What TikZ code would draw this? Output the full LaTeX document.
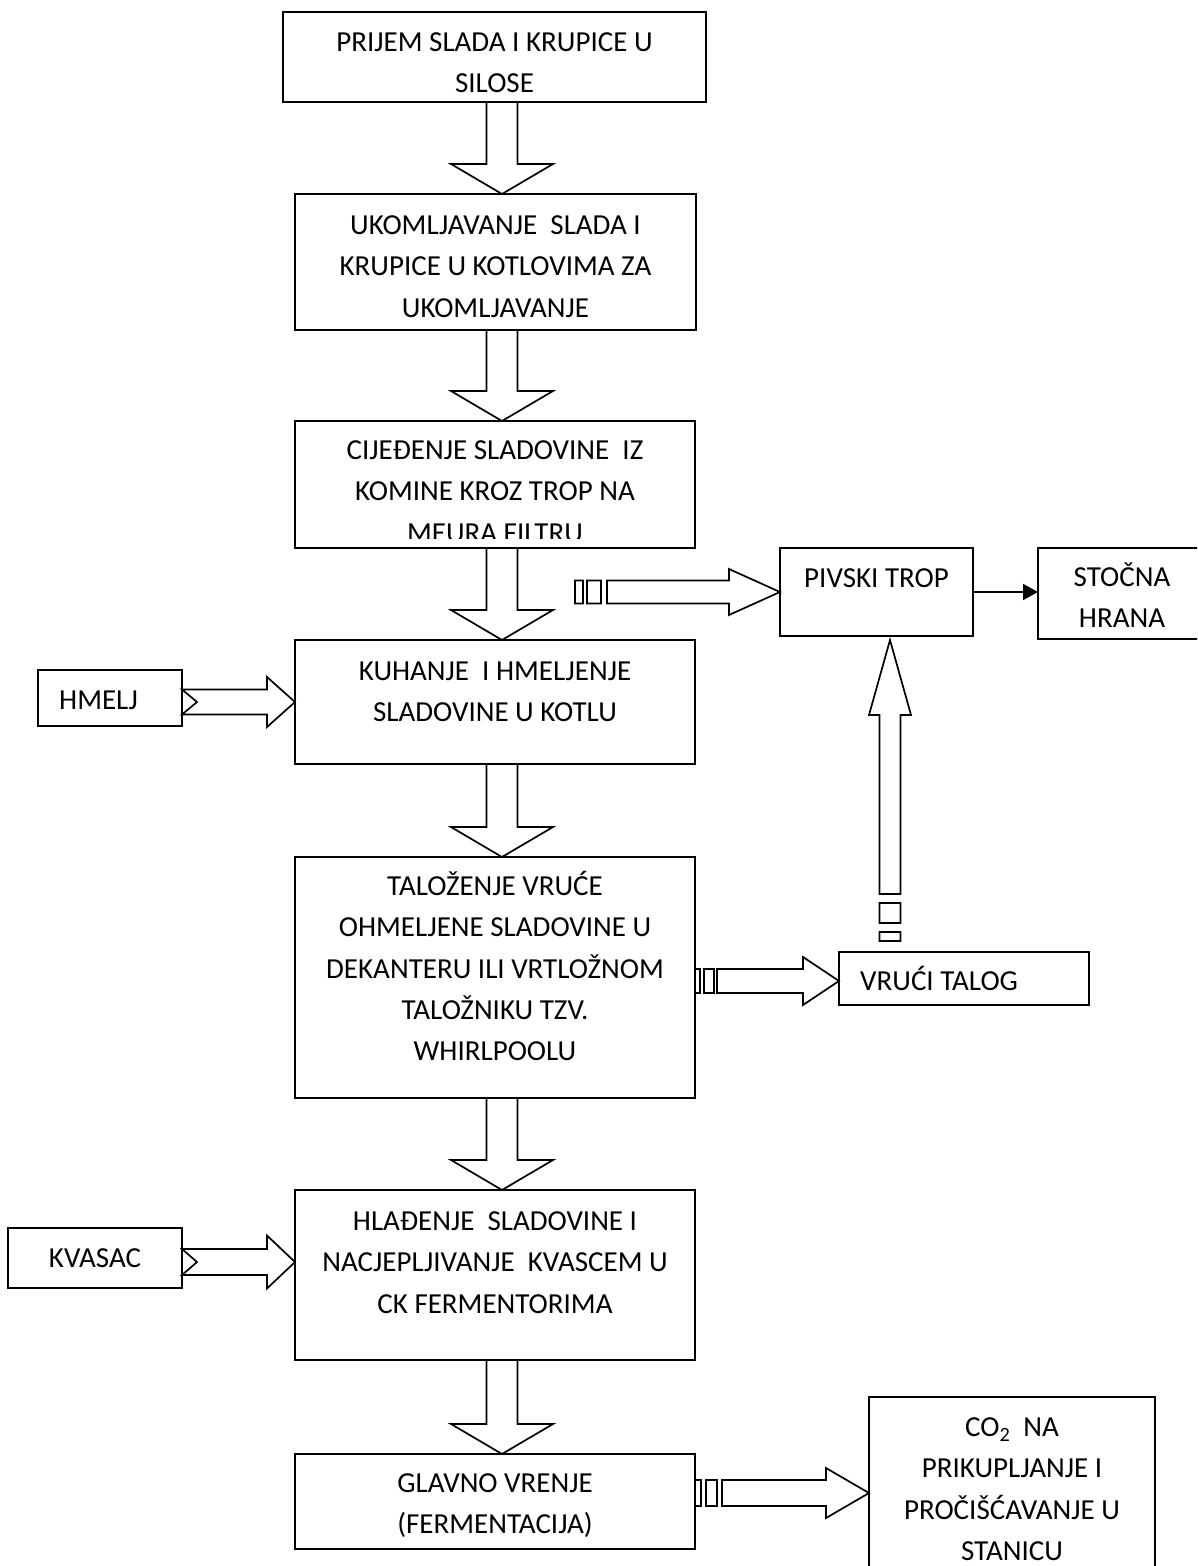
\documentclass[tikz,border=0pt]{standalone}
\usepackage{fontspec}
\setmainfont{Carlito}
\usetikzlibrary{calc,arrows.meta}
% down block arrow: #1 tail, #2 tip
\newcommand\dnarrow[2]{%
  \draw[blk] let \p1=(#1),\p2=(#2) in
    (\x1-15.5pt,\y1) -- (\x1-15.5pt,\y2+30pt) -- (\x1-51pt,\y2+30pt) -- (\x2,\y2)
    -- (\x1+51pt,\y2+30pt) -- (\x1+15.5pt,\y2+30pt) -- (\x1+15.5pt,\y1);}
% notched right arrow: #1 tail, #2 tip, #3 shaft half, #4 head half
\newcommand\ntarrow[4]{%
  \draw[blk] let \p1=(#1),\p2=(#2) in
    (\x1,\y2+#3pt) -- (\x2-28pt,\y2+#3pt) -- (\x2-28pt,\y2+#4pt) -- (\x2,\y2)
    -- (\x2-28pt,\y2-#4pt) -- (\x2-28pt,\y2-#3pt) -- (\x1,\y2-#3pt) -- (\x1+15pt,\y2) -- cycle;}
% striped right arrow
\newcommand\strarrow[9]{%
  \draw[blk] let \p1=(#1),\p2=(#2) in
    (\x1,\y2+#7pt) rectangle (\x1+#3pt,\y2-#7pt)
    (\x1+#3pt+#4pt,\y2+#7pt) rectangle (\x1+#3pt+#4pt+#5pt,\y2-#7pt)
    (\x1+#3pt+#4pt+#5pt+#6pt,\y2+#7pt) -- (\x2-#9pt,\y2+#7pt) -- (\x2-#9pt,\y2+#8pt) -- (\x2,\y2)
    -- (\x2-#9pt,\y2-#8pt) -- (\x2-#9pt,\y2-#7pt) -- (\x1+#3pt+#4pt+#5pt+#6pt,\y2-#7pt) -- cycle;}
\begin{document}
\begin{tikzpicture}[x=1pt,y=-1pt,
  procbox/.style={draw, line width=1.7pt, rectangle, inner sep=0pt, outer sep=0pt},
  ctext/.style={anchor=north, inner sep=0pt, text height=0pt, text width=420pt,
    font=\fontsize{29}{41.3}\selectfont,
    execute at begin node={\centering\spaceskip=0pt\xspaceskip=0pt\relax}},
  ltext/.style={anchor=north west, inner sep=0pt, text height=0pt,
    font=\fontsize{29}{41.3}\selectfont},
  blk/.style={draw, line width=1.7pt, line join=miter}]
\useasboundingbox (0,0) rectangle (1197,1566);
\clip (0,0) rectangle (1197,1566);
\fill[white] (0,0) rectangle (1197,1566);

% main column boxes
\node[procbox, minimum width=423pt, minimum height=90pt]  (prijem) at (494.5,57) {};
\node[procbox, minimum width=401pt, minimum height=136pt] (ukom)   at (495.5,262) {};
\node[procbox, minimum width=400pt, minimum height=127pt] (cij)    at (495,484.5) {};
\node[procbox, minimum width=400pt, minimum height=124pt] (kuh)    at (495,702) {};
\node[procbox, minimum width=400pt, minimum height=241pt] (tal)    at (495,977.5) {};
\node[procbox, minimum width=400pt, minimum height=170pt] (hla)    at (495,1275) {};
\node[procbox, minimum width=400pt, minimum height=95pt]  (glavno) at (495,1501.5) {};
% side boxes
\node[procbox, minimum width=193pt, minimum height=88pt]  (pivski) at (876.5,592) {};
\node[procbox, minimum width=168pt, minimum height=91pt]  (stocna) at (1122,593.5) {};
\node[procbox, minimum width=144pt, minimum height=56pt]  (hmelj)  at (110,698) {};
\node[procbox, minimum width=174pt, minimum height=60pt]  (kvasac) at (95,1258) {};
\node[procbox, minimum width=250pt, minimum height=53pt]  (vruci)  at (964,978.5) {};
\node[procbox, minimum width=286pt, minimum height=192pt] (co2)    at (1012,1493) {};

% texts
\node[ctext] (prijemt) at (494.5,51.3) {PRIJEM SLADA I KRUPICE U\\SILOSE};
\node[ctext] (ukomt) at (495.5,234.3) {UKOMLJAVANJE\ \ SLADA I\\KRUPICE U KOTLOVIMA ZA\\UKOMLJAVANJE};
\begin{scope}
  \clip (297,423) rectangle (693,538);
  \node[ctext] (cijt) at (495,459.3) {CIJEĐENJE SLADOVINE\ \ IZ\\KOMINE KROZ TROP NA\\MEURA FILTRU};
\end{scope}
\node[ctext] (kuht) at (495,680.3) {KUHANJE\ \ I HMELJENJE\\SLADOVINE U KOTLU};
\node[ctext] (talt) at (495,895.3) {TALOŽENJE VRUĆE\\OHMELJENE SLADOVINE U\\DEKANTERU ILI VRTLOŽNOM\\TALOŽNIKU TZV.\\WHIRLPOOLU};
\node[ctext] (hlat) at (495,1230.3) {HLAĐENJE\ \ SLADOVINE I\\NACJEPLJIVANJE\ \ KVASCEM U\\CK FERMENTORIMA};
\node[ctext] (glavnot) at (495,1492.3) {GLAVNO VRENJE\\(FERMENTACIJA)};
\node[ctext] (pivskit) at (876.5,587.3) {PIVSKI TROP};
\node[ctext] (stocnat) at (1122,586.3) {STOČNA\\HRANA};
\node[ltext] (hmeljt) at (59,709.3) {HMELJ};
\node[ctext] (kvasact) at (95,1267.3) {KVASAC};
\node[ltext] (vrucit) at (860,990.3) {VRUĆI TALOG};
\node[ctext] (co2t) at (1012,1436.3) {CO\textsubscript{2}\ \ NA\\PRIKUPLJANJE I\\PROČIŠĆAVANJE U\\STANICU};

% down block arrows
\coordinate (ax) at (502,0);
\dnarrow{prijem.south -| ax}{ukom.north -| ax}
\dnarrow{ukom.south -| ax}{cij.north -| ax}
\dnarrow{cij.south -| ax}{kuh.north -| ax}
\dnarrow{kuh.south -| ax}{tal.north -| ax}
\dnarrow{tal.south -| ax}{hla.north -| ax}
\dnarrow{hla.south -| ax}{glavno.north -| ax}

% inputs
\ntarrow{hmelj.east}{kuh.west}{12.5}{25}
\coordinate (kvtip) at ($(hla.west)+(0,-13)$);
\ntarrow{kvasac.east}{kvtip}{13}{26.5}

% striped arrows
\coordinate (pvtail) at (575,591);
\strarrow{pvtail}{pivski.west}{8}{4}{14}{6}{11.5}{23}{51}
\coordinate (vrtip) at ($(vruci.west)+(0,2.5)$);
\strarrow{tal.east}{vrtip}{5}{4}{10}{3}{12}{24}{36}
\strarrow{glavno.east}{co2.west}{6}{5}{11}{5}{13}{25}{43}

% upward striped arrow
\coordinate (upx) at (890,0);
\coordinate (upt) at ($(vruci.north -| upx)+(0,-11)$);
\coordinate (uptip) at ($(pivski.south -| upx)+(0,4)$);
\draw[blk] let \p1=(upt),\p2=(uptip) in
  (\x1-10.5pt,\y1) rectangle (\x1+10.5pt,\y1+9pt)
  (\x1-10.5pt,\y1+18pt) rectangle (\x1+10.5pt,\y1+38pt)
  (\x1-10.5pt,\y1+47pt) -- (\x1-10.5pt,\y2-75pt) -- (\x1-21pt,\y2-75pt) -- (\x2,\y2)
  -- (\x1+21pt,\y2-75pt) -- (\x1+10.5pt,\y2-75pt) -- (\x1+10.5pt,\y1+47pt) -- cycle;

% plain arrow to STOČNA HRANA
\draw[line width=1.7pt, -{Triangle[length=15pt,width=16pt]}] (pivski.east) -- (pivski.east -| stocna.west);
\end{tikzpicture}
\end{document}
